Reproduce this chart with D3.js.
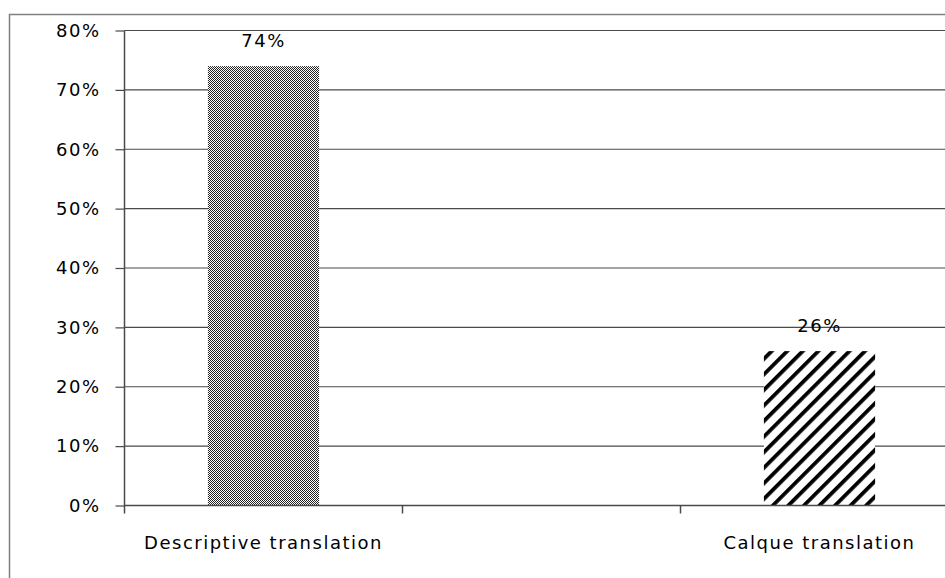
<!DOCTYPE html>
<html>
<head>
<meta charset="utf-8">
<script src="https://cdn.jsdelivr.net/npm/d3@7"></script>
<style>
  body { margin: 0; background: #fff; }
  svg text { font-family: "DejaVu Sans", Verdana, sans-serif; fill: #000; letter-spacing: 1.5px; }
</style>
</head>
<body>
<svg width="945" height="578"></svg>
<script>
// categories (the middle slot is an empty category in the original chart)
var categories = ["Descriptive translation", "", "Calque translation"];
var values = [0.74, null, 0.26];
var patterns = ["dots", null, "stripes"];
var yTicks = [0, 0.1, 0.2, 0.3, 0.4, 0.5, 0.6, 0.7, 0.8];

var svg = d3.select("svg");

// fill patterns
var defs = svg.append("defs");
var dots = defs.append("pattern")
  .attr("id", "dots")
  .attr("patternUnits", "userSpaceOnUse")
  .attr("width", 2).attr("height", 2);
dots.append("rect").attr("width", 2).attr("height", 2).attr("fill", "#fff");
dots.append("rect").attr("width", 1).attr("height", 1).attr("fill", "#222");
dots.append("rect").attr("x", 1).attr("y", 1).attr("width", 1).attr("height", 1).attr("fill", "#222");

var stripes = defs.append("pattern")
  .attr("id", "stripes")
  .attr("patternUnits", "userSpaceOnUse")
  .attr("width", 11).attr("height", 11)
  .attr("patternTransform", "rotate(45)");
stripes.append("rect").attr("width", 11).attr("height", 11).attr("fill", "#fff");
stripes.append("rect").attr("width", 3.8).attr("height", 11).attr("fill", "#000");

// chart border
svg.append("rect")
  .attr("x", 9.5).attr("y", 14.5)
  .attr("width", 1000).attr("height", 700)
  .attr("fill", "none")
  .attr("stroke", "#808080")
  .attr("stroke-width", 1.5);

var x = d3.scaleBand()
  .domain(categories)
  .range([124.5, 958.5])
  .paddingInner(0).paddingOuter(0);

var y = d3.scaleLinear()
  .domain([0, 0.8])
  .range([505.5, 30.5]);

// gridlines
svg.append("g")
  .selectAll("line")
  .data(yTicks.slice(1))
  .enter()
  .append("line")
    .attr("x1", 124.5)
    .attr("x2", 958.5)
    .attr("y1", d => y(d))
    .attr("y2", d => y(d))
    .attr("stroke", "#4a4a4a")
    .attr("stroke-width", 1.2);

// bars
var bw = x.bandwidth() * 0.4;
svg.append("g")
  .selectAll("rect")
  .data(categories.map((c, i) => ({c: c, v: values[i], p: patterns[i]})).filter(d => d.v != null))
  .enter()
  .append("rect")
    .attr("x", d => x(d.c) + x.bandwidth() / 2 - bw / 2)
    .attr("y", d => y(d.v))
    .attr("width", bw)
    .attr("height", d => y(0) - y(d.v))
    .attr("fill", d => "url(#" + d.p + ")");

// value labels
svg.append("g")
  .selectAll("text")
  .data(categories.map((c, i) => ({c: c, v: values[i]})).filter(d => d.v != null))
  .enter()
  .append("text")
    .attr("x", d => x(d.c) + x.bandwidth() / 2)
    .attr("y", d => y(d.v) - 19)
    .attr("text-anchor", "middle")
    .style("font-size", "18px")
    .text(d => Math.round(d.v * 100) + "%");

// y axis
var yAxis = d3.axisLeft(y)
  .tickValues(yTicks)
  .tickSize(9)
  .tickPadding(15)
  .tickFormat(d3.format(".0%"));
var gy = svg.append("g")
  .attr("transform", "translate(124.5,0)")
  .call(yAxis);
gy.select(".domain").attr("stroke", "#4a4a4a").attr("stroke-width", 1.5)
  .attr("d", "M0," + (y(0) + 8) + "V" + y(0.8));
gy.selectAll(".tick line").attr("stroke", "#4a4a4a").attr("stroke-width", 1.2);
gy.selectAll(".tick text").style("font-size", "18px").style("font-family", "DejaVu Sans, Verdana, sans-serif");

// x axis
var gx = svg.append("g")
  .attr("transform", "translate(0," + y(0) + ")");
gx.append("line")
  .attr("x1", 124.5).attr("x2", 958.5)
  .attr("stroke", "#4a4a4a").attr("stroke-width", 1.5);
gx.selectAll(".xtick")
  .data(categories.slice(1).concat(["end"]))
  .enter()
  .append("line")
    .attr("x1", (d, i) => 124.5 + x.bandwidth() * (i + 1))
    .attr("x2", (d, i) => 124.5 + x.bandwidth() * (i + 1))
    .attr("y1", 0).attr("y2", 8)
    .attr("stroke", "#4a4a4a").attr("stroke-width", 1.5);
gx.selectAll("text")
  .data(categories.filter(c => c !== ""))
  .enter()
  .append("text")
    .attr("x", d => x(d) + x.bandwidth() / 2)
    .attr("y", 43)
    .attr("text-anchor", "middle")
    .style("font-size", "18px")
    .text(d => d);
</script>
</body>
</html>
